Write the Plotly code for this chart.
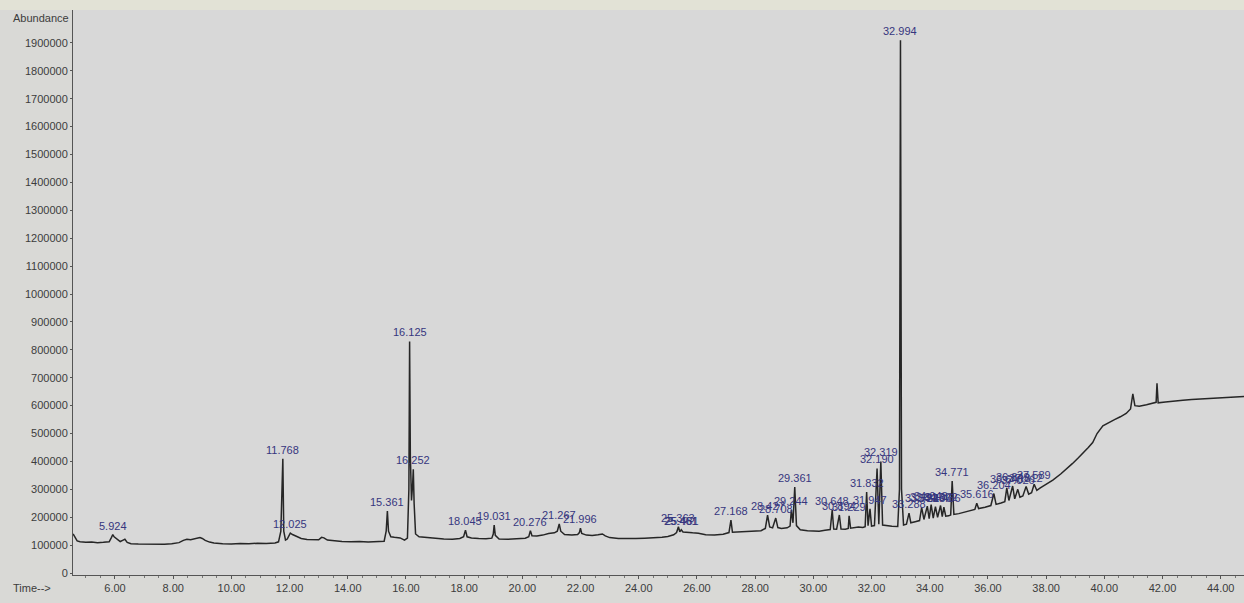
import plotly.graph_objects as go

# ---- chromatogram trace (retention time in min, abundance) ----
time_min = [
    4.56, 4.62, 4.70, 4.80, 5.00, 5.20, 5.40, 5.60, 5.80, 5.88, 5.924, 5.97, 6.06, 6.18, 6.28, 6.34, 6.42, 6.55,
    6.80, 7.10, 7.40, 7.70, 7.95, 8.20, 8.35, 8.47, 8.60, 8.72, 8.85, 8.92, 9.00, 9.10, 9.25, 9.40, 9.70,
    10.00, 10.30, 10.60, 10.90, 11.20, 11.50, 11.62, 11.70, 11.768, 11.80, 11.86, 11.92, 11.98, 12.025, 12.10,
    12.25, 12.40, 12.60, 12.85, 13.00, 13.10, 13.18, 13.30, 13.50, 13.80, 14.10, 14.40, 14.70, 15.00, 15.25,
    15.32, 15.361, 15.40, 15.48, 15.60, 15.80, 15.95, 16.05, 16.10, 16.125, 16.15, 16.19, 16.23, 16.252, 16.28,
    16.33, 16.45, 16.70, 17.00, 17.30, 17.60, 17.85, 17.98, 18.045, 18.10, 18.25, 18.50, 18.75, 18.95, 19.00,
    19.031, 19.07, 19.20, 19.50, 19.80, 20.10, 20.22, 20.276, 20.33, 20.50, 20.70, 20.90, 21.10, 21.20, 21.267,
    21.32, 21.45, 21.70, 21.90, 21.96, 21.996, 22.04, 22.20, 22.40, 22.60, 22.75, 22.85, 23.00, 23.30, 23.60,
    23.90, 24.20, 24.50, 24.80, 25.00, 25.20, 25.30, 25.363, 25.41, 25.461, 25.52, 25.65, 25.85, 26.05, 26.30,
    26.60, 26.90, 27.10, 27.168, 27.22, 27.40, 27.70, 28.00, 28.20, 28.35, 28.427, 28.50, 28.60, 28.708, 28.78,
    28.90, 29.10, 29.20, 29.244, 29.30, 29.361, 29.42, 29.55, 29.80, 30.00, 30.20, 30.40, 30.58, 30.648, 30.70,
    30.80, 30.894, 30.95, 31.10, 31.20, 31.229, 31.28, 31.45, 31.55, 31.70, 31.78, 31.832, 31.88, 31.947, 32.00,
    32.10, 32.19, 32.25, 32.319, 32.38, 32.50, 32.70, 32.90, 32.96, 32.994, 33.03, 33.10, 33.20, 33.288, 33.35,
    33.50, 33.65, 33.722, 33.80, 33.917, 33.98, 34.048, 34.12, 34.196, 34.27, 34.372, 34.43, 34.486, 34.55,
    34.65, 34.72, 34.771, 34.83, 35.00, 35.20, 35.40, 35.55, 35.616, 35.68, 35.90, 36.10, 36.204, 36.28, 36.45,
    36.58, 36.648, 36.72, 36.849, 36.92, 37.026, 37.10, 37.20, 37.312, 37.40, 37.50, 37.589, 37.68, 37.80,
    38.00, 38.23, 38.50, 38.70, 38.90, 39.10, 39.30, 39.45, 39.60, 39.75, 39.95, 40.15, 40.35, 40.55, 40.75,
    40.90, 40.98, 41.05, 41.20, 41.45, 41.70, 41.78, 41.81, 41.85, 42.10, 42.40, 42.70, 43.00, 43.30, 43.60,
    43.90, 44.20, 44.50, 44.80,
]
abundance = [
    140000, 128000, 115000, 112000, 110000, 111000, 109000, 110000, 112000, 128000, 138000, 130000, 124000, 113000, 118000, 121000, 110000, 105000,
    104000, 103000, 104000, 103000, 105000, 109000, 117000, 121000, 119000, 122000, 125000, 127000, 124000, 117000, 111000, 108000, 105000,
    104000, 106000, 105000, 107000, 106000, 108000, 112000, 150000, 410000, 150000, 118000, 122000, 135000, 143000, 138000,
    130000, 124000, 120000, 118000, 119000, 128000, 126000, 118000, 115000, 113000, 112000, 113000, 111000, 112000, 114000,
    150000, 222000, 150000, 130000, 128000, 126000, 118000, 125000, 300000, 830000, 420000, 260000, 320000, 372000, 250000,
    140000, 130000, 127000, 124000, 122000, 121000, 124000, 130000, 154000, 130000, 126000, 124000, 123000, 125000, 140000,
    172000, 135000, 122000, 121000, 123000, 125000, 130000, 152000, 134000, 133000, 136000, 142000, 144000, 150000, 176000,
    150000, 138000, 136000, 138000, 145000, 161000, 142000, 136000, 135000, 137000, 140000, 133000, 127000, 124000, 123000,
    124000, 125000, 126000, 128000, 131000, 137000, 145000, 166000, 148000, 155000, 147000, 145000, 144000, 143000, 137000,
    136000, 139000, 145000, 190000, 146000, 147000, 149000, 151000, 152000, 160000, 208000, 165000, 162000, 197000, 163000,
    160000, 162000, 168000, 226000, 180000, 308000, 170000, 155000, 152000, 151000, 150000, 153000, 156000, 226000, 158000,
    157000, 208000, 158000, 157000, 160000, 205000, 161000, 162000, 165000, 163000, 166000, 290000, 170000, 230000, 168000,
    170000, 375000, 175000, 400000, 172000, 170000, 168000, 167000, 300000, 1910000, 300000, 172000, 175000, 215000, 180000,
    184000, 188000, 235000, 192000, 240000, 195000, 245000, 197000, 238000, 200000, 242000, 202000, 236000, 204000,
    205000, 208000, 330000, 210000, 213000, 218000, 224000, 228000, 250000, 231000, 236000, 242000, 285000, 246000, 251000,
    256000, 305000, 260000, 312000, 266000, 300000, 272000, 276000, 310000, 283000, 288000, 318000, 296000, 305000,
    318000, 333000, 355000, 372000, 392000, 412000, 432000, 450000, 468000, 500000, 528000, 540000, 550000, 560000, 572000,
    588000, 642000, 600000, 598000, 603000, 608000, 612000, 680000, 610000, 613000, 617000, 619000, 622000, 624000, 626000,
    628000, 630000, 632000, 633000,
]

# ---- integrated peak labels ----
label_text = [
    "5.924", "11.768", "12.025", "15.361", "16.125", "16.252", "18.045", "19.031", "20.276", "21.267", "21.996",
    "25.363", "25.461", "25.481", "27.168", "28.427", "28.708", "29.244", "29.361", "30.648", "30.894", "31.229",
    "31.832", "31.947", "32.190", "32.319", "32.994", "33.288", "33.722", "33.917", "34.048", "34.196", "34.372",
    "34.486", "34.771", "35.616", "36.204", "36.648", "36.849", "37.026", "37.312", "37.589",
]
label_time = [
    5.924, 11.768, 12.025, 15.361, 16.125, 16.252, 18.045, 19.031, 20.276, 21.267, 21.996,
    25.363, 25.461, 25.481, 27.168, 28.427, 28.708, 29.244, 29.361, 30.648, 30.894, 31.229,
    31.832, 31.947, 32.190, 32.319, 32.994, 33.288, 33.722, 33.917, 34.048, 34.196, 34.372,
    34.486, 34.771, 35.616, 36.204, 36.648, 36.849, 37.026, 37.312, 37.589,
]
label_abund = [
    138000, 410000, 143000, 222000, 830000, 372000, 154000, 172000, 152000, 176000, 161000,
    166000, 155000, 155000, 190000, 208000, 197000, 226000, 308000, 226000, 208000, 205000,
    290000, 230000, 375000, 400000, 1910000, 215000, 235000, 240000, 245000, 238000, 242000,
    236000, 330000, 250000, 285000, 305000, 312000, 300000, 310000, 318000,
]

y_ticks = list(range(0, 2000000, 100000))
x_ticks = list(range(6, 46, 2))
x_tick_text = [f"{v:.2f}" for v in x_ticks]

W, H = 1244, 603
ML, MR, MT, MB = 73, 0, 10, 28
PW, PH = W - ML - MR, H - MT - MB

fig = go.Figure()
fig.add_trace(go.Scatter(
    x=time_min, y=abundance, mode="lines",
    line=dict(color="#262626", width=1.5),
    hoverinfo="skip", showlegend=False,
))

for txt, t, a in zip(label_text, label_time, label_abund):
    fig.add_annotation(
        x=t, y=a, text=txt, showarrow=False, yanchor="bottom", xanchor="center",
        yshift=1, font=dict(family="Liberation Sans, Arial, sans-serif", size=11, color="#36367e"),
    )

font_axis = dict(family="Liberation Sans, Arial, sans-serif", size=11, color="#3c3c3c")

fig.add_annotation(
    xref="paper", yref="paper", x=-62 / PW, y=1 - 8 / PH,
    text="Abundance", showarrow=False, xanchor="left", yanchor="middle", font=font_axis,
)
fig.add_annotation(
    xref="paper", yref="paper", x=-62 / PW, y=-13 / PH,
    text="Time-->", showarrow=False, xanchor="left", yanchor="middle", font=font_axis,
)

# light header strip
fig.add_shape(type="rect", xref="paper", yref="paper", x0=-ML / PW, x1=1.0, y0=1.0, y1=1 + MT / PH,
              fillcolor="#e2e2d6", line=dict(width=0), layer="below")

fig.update_layout(
    width=W, height=H,
    margin=dict(l=ML, r=MR, t=MT, b=MB, pad=0),
    paper_bgcolor="#d9d9d6",
    plot_bgcolor="#d8d8d8",
    font=font_axis,
    xaxis=dict(
        range=[4.557, 44.8], tickvals=x_ticks, ticktext=x_tick_text,
        showgrid=False, zeroline=False, showline=True, linecolor="#555555", linewidth=1,
        ticks="outside", ticklen=3, tickcolor="#555555",
        minor=dict(dtick=0.5, ticks="outside", ticklen=2, tickcolor="#777777", showgrid=False),
        tickfont=font_axis,
    ),
    yaxis=dict(
        range=[-7000, 2018000], tickvals=y_ticks, tickformat="d",
        showgrid=False, zeroline=False, showline=True, linecolor="#555555", linewidth=1,
        ticks="outside", ticklen=2, tickcolor="#555555", tickfont=font_axis,
    ),
)

fig.write_html(
    "out.html",
    config={"displayModeBar": False},
    post_script="document.body.style.margin='0';document.body.style.overflow='hidden';",
)
